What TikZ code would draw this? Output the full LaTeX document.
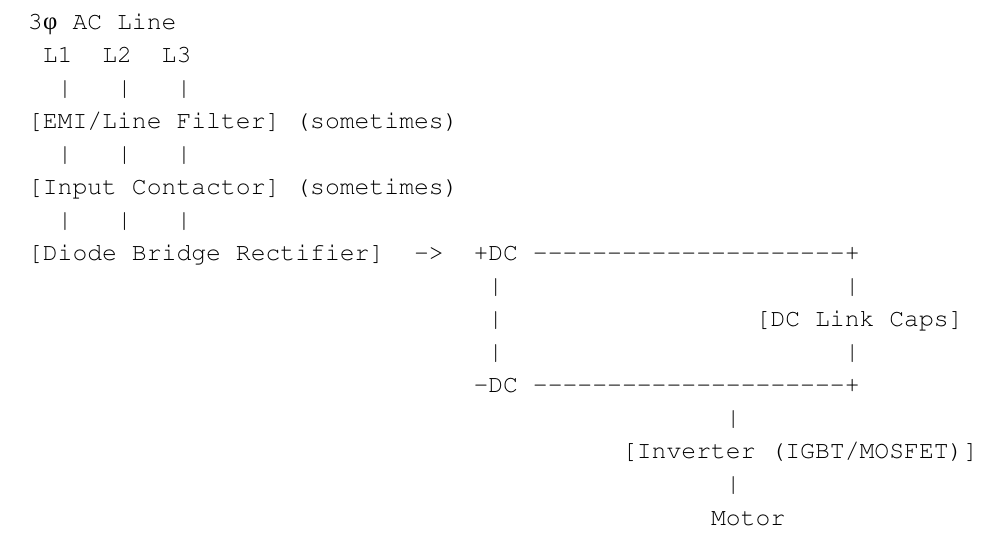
\documentclass[tikz,border=0pt]{standalone}
\usepackage[T1]{fontenc}
\usepackage{fontspec}
\newfontfamily\phifont{Liberation Serif}
\newcommand\courierfont{\fontencoding{T1}\fontfamily{pcr}\fontseries{m}\fontshape{n}\fontsize{24.75}{30}\selectfont}
\tikzset{
  txt/.style={anchor=base west, inner sep=0pt, outer sep=0pt,
    font=\courierfont}
}
\def\busline{-{}-{}-{}-{}-{}-{}-{}-{}-{}-{}-{}-{}-{}-{}-{}-{}-{}-{}-{}-{}-{}+}

\begin{document}
\begin{tikzpicture}[x=14.85pt, y=-33.07pt]
    \useasboundingbox (-28pt,29pt) rectangle (972pt,-521pt);
    % supply side
    \node[txt] (title) at (0,0) {3\makebox[14.85pt]{\phifont φ} AC Line};
    \node[txt] (l1) at (1,1) {L1};
    \node[txt] (l2) at (5,1) {L2};
    \node[txt] (l3) at (9,1) {L3};
    \foreach \r in {2,4,6}
        \foreach \c in {2,6,10}
            \node[txt] (bar-\r-\c) at (\c,\r) {|};
    \node[txt] (emi) at (0,3) {[EMI/Line Filter] (sometimes)};
    \node[txt] (contactor) at (0,5) {[Input Contactor] (sometimes)};
    \node[txt] (rectifier) at (0,7) {[Diode Bridge Rectifier]};
    \node[txt] (feed) at (26,7) {-{}>};
    % dc link
    \node[txt] (pdc) at (30,7) {+DC};
    \node[txt] (pbus) at (34,7) {\busline};
    \foreach \r in {8,9,10}
        \node[txt] (lbar-\r) at (31,\r) {|};
    \foreach \r in {8,10}
        \node[txt] (rbar-\r) at (55,\r) {|};
    \node[txt] (caps) at (49,9) {[DC Link Caps]};
    \node[txt] (ndc) at (30,11) {-DC};
    \node[txt] (nbus) at (34,11) {\busline};
    % drive side
    \node[txt] (ibar) at (47,12) {|};
    \node[txt] (inverter) at (40,13) {[Inverter (IGBT/MOSFET)]};
    \node[txt] (mbar) at (47,14) {|};
    \node[txt] (motor) at (46,15) {Motor};
\end{tikzpicture}
\end{document}
